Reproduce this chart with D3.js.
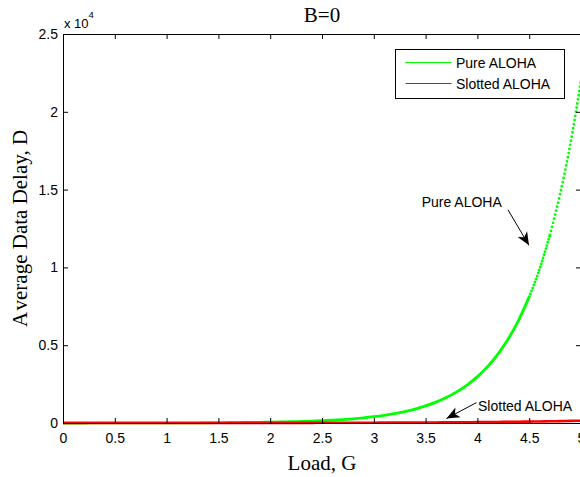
<!DOCTYPE html>
<html>
<head>
<meta charset="utf-8">
<script src="https://cdn.jsdelivr.net/npm/d3@7"></script>
<style>
  html, body { margin: 0; padding: 0; background: #fff; }
  svg { display: block; }
</style>
</head>
<body>
<svg id="chart" width="580" height="477"></svg>
<script>
// Offered load G (packets per packet time)
const loadG = [
  0.0, 0.1, 0.2, 0.3, 0.4, 0.5, 0.6, 0.7, 0.8, 0.9,
  1.0, 1.1, 1.2, 1.3, 1.4, 1.5, 1.6, 1.7, 1.8, 1.9,
  2.0, 2.1, 2.2, 2.3, 2.4, 2.5, 2.6, 2.7, 2.8, 2.9,
  3.0, 3.1, 3.2, 3.3, 3.4, 3.5, 3.6, 3.7, 3.8, 3.9,
  4.0, 4.1, 4.2, 4.3, 4.4, 4.5, 4.6, 4.7, 4.8, 4.9, 5.0
];
// Average data delay D, pure ALOHA
const pureDelay = [
  1.00, 1.22, 1.49, 1.82, 2.23, 2.72, 3.32, 4.06, 4.95, 6.05,
  7.39, 9.03, 11.0, 13.5, 16.4, 20.1, 24.5, 30.0, 36.6, 44.7,
  54.6, 66.7, 81.5, 99.5, 121.5, 148.4, 181.3, 221.4, 270.4, 330.3,
  403.4, 492.7, 601.8, 735.1, 897.8, 1096.6, 1339.4, 1636.0, 1998.2, 2440.6,
  2981.0, 3641.0, 4447.1, 5431.7, 6634.2, 8103.1, 9897.1, 12088.4, 14764.8, 18033.7, 22026.5
];
// Average data delay D, slotted ALOHA
const slottedDelay = [
  1.00, 1.11, 1.22, 1.35, 1.49, 1.65, 1.82, 2.01, 2.23, 2.46,
  2.72, 3.00, 3.32, 3.67, 4.06, 4.48, 4.95, 5.47, 6.05, 6.69,
  7.39, 8.17, 9.03, 9.97, 11.0, 12.2, 13.5, 14.9, 16.4, 18.2,
  20.1, 22.2, 24.5, 27.1, 30.0, 33.1, 36.6, 40.4, 44.7, 49.4,
  54.6, 60.3, 66.7, 73.7, 81.5, 90.0, 99.5, 110, 122, 134, 148
];
const seriesNames = ["Pure ALOHA", "Slotted ALOHA"];

const xTicks = [0, 0.5, 1, 1.5, 2, 2.5, 3, 3.5, 4, 4.5, 5];
const xTickLabels = ["0", "0.5", "1", "1.5", "2", "2.5", "3", "3.5", "4", "4.5", "5"];
const yTicks = [0, 5000, 10000, 15000, 20000, 25000];
const yTickLabels = ["0", "0.5", "1", "1.5", "2", "2.5"];

// Text call-outs, anchored in data units: [G, D] for the label, arrow tail and arrow tip
const calloutText = ["Pure ALOHA", "Slotted ALOHA"];
const calloutLabelAt = [[3.462, 13860], [4.006, 800]];
const calloutTail = [[4.295, 13700], [3.991, 1310]];
const calloutTip = [[4.498, 11420], [3.702, 290]];

const SANS = "'Liberation Sans', Arial, Helvetica, sans-serif";
const SERIF = "'Liberation Serif', 'Times New Roman', Times, serif";
const GREEN = "#00ff00";
const RED = "#ff0000";

const svg = d3.select("#chart");
svg.append("rect").attr("width", 580).attr("height", 477).attr("fill", "#fff");

const plotLeft = 63, plotRight = 581, plotTop = 34, plotBottom = 423;
const x = d3.scaleLinear().domain([0, 5]).range([plotLeft, plotRight]);
const y = d3.scaleLinear().domain([0, 25000]).range([plotBottom, plotTop]);

const defs = svg.append("defs");

// Plot clipping
defs.append("clipPath").attr("id", "plotClip")
  .append("rect").attr("x", plotLeft).attr("y", plotTop)
  .attr("width", plotRight - plotLeft).attr("height", plotBottom - plotTop + 3);

const rows = loadG.map((g, i) => ({ g, pure: pureDelay[i], slotted: slottedDelay[i] }));

const plot = svg.append("g").attr("clip-path", "url(#plotClip)");

const pureLine = d3.line().x(d => x(d.g)).y(d => y(d.pure)).curve(d3.curveMonotoneX);
const slottedLine = d3.line().x(d => x(d.g)).y(d => y(d.slotted)).curve(d3.curveMonotoneX);

// Pure ALOHA: dense point markers merge into a solid stroke where the curve is shallow,
// and separate into dots where it climbs steeply.
plot.append("path")
  .datum(rows.filter(d => d.g <= 4.5))
  .attr("d", pureLine)
  .attr("fill", "none").attr("stroke", GREEN)
  .attr("stroke-width", 2.8).attr("stroke-linecap", "round");
plot.append("path")
  .datum(rows.filter(d => d.g >= 4.5 && d.g <= 4.7))
  .attr("d", pureLine)
  .attr("fill", "none").attr("stroke", GREEN)
  .attr("stroke-width", 2.8).attr("stroke-linecap", "round")
  .attr("stroke-dasharray", "0 3.2");
plot.append("path")
  .datum(rows.filter(d => d.g >= 4.7))
  .attr("d", pureLine)
  .attr("fill", "none").attr("stroke", GREEN)
  .attr("stroke-width", 2.8).attr("stroke-linecap", "round")
  .attr("stroke-dasharray", "0 4.2");

// Slotted ALOHA
plot.append("path")
  .datum(rows)
  .attr("d", slottedLine)
  .attr("fill", "none").attr("stroke", RED)
  .attr("stroke-width", 2.6);

// Axes with inward ticks on all four sides
const axisStyle = g => {
  g.selectAll(".domain").attr("stroke", "#000");
  g.selectAll(".tick line").attr("stroke", "#000");
  g.selectAll(".tick text").attr("fill", "#000")
    .style("font-family", SANS).style("font-size", "14px");
};

svg.append("g").attr("transform", `translate(0,${plotBottom})`)
  .call(d3.axisBottom(x).tickValues(xTicks)
    .tickFormat((d, i) => xTickLabels[i])
    .tickSizeInner(-5).tickSizeOuter(0).tickPadding(10))
  .call(axisStyle);

svg.append("g").attr("transform", `translate(0,${plotTop})`)
  .call(d3.axisTop(x).tickValues(xTicks).tickFormat("")
    .tickSizeInner(-5).tickSizeOuter(0))
  .call(axisStyle);

svg.append("g").attr("transform", `translate(${plotLeft},0)`)
  .call(d3.axisLeft(y).tickValues(yTicks)
    .tickFormat((d, i) => yTickLabels[i])
    .tickSizeInner(-5).tickSizeOuter(0).tickPadding(5))
  .call(axisStyle);

svg.append("g").attr("transform", `translate(${plotRight},0)`)
  .call(d3.axisRight(y).tickValues(yTicks).tickFormat("")
    .tickSizeInner(-5).tickSizeOuter(0))
  .call(axisStyle);

// Exponent multiplier for the y axis
const expo = svg.append("text")
  .attr("x", plotLeft + 1).attr("y", 28)
  .style("font-family", SANS).style("font-size", "13px").attr("fill", "#000");
expo.append("tspan").text("x 10");
expo.append("tspan").attr("dy", -10).style("font-size", "9.5px").text("4");

// Title and axis labels
svg.append("text")
  .attr("x", (plotLeft + plotRight) / 2).attr("y", 21.5)
  .attr("text-anchor", "middle")
  .style("font-family", SERIF).style("font-size", "21px")
  .text("B=0");

svg.append("text")
  .attr("x", (plotLeft + plotRight) / 2).attr("y", 469.5)
  .attr("text-anchor", "middle")
  .style("font-family", SERIF).style("font-size", "21px")
  .text("Load, G");

const ylab = svg.append("text")
  .attr("transform", `translate(27,${(plotTop + plotBottom) / 2}) rotate(-90)`)
  .attr("text-anchor", "middle")
  .style("font-family", SERIF).style("font-size", "21px");
ylab.append("tspan").text("A");
ylab.append("tspan").attr("dx", 3).text("verage Data Delay, D");

// Legend
const legend = svg.append("g").attr("transform", "translate(395.5,49.5)");
legend.append("rect").attr("width", 169).attr("height", 49)
  .attr("fill", "#fff").attr("stroke", "#000").attr("stroke-width", 1);
[GREEN, RED].forEach((c, i) => {
  const yy = 13 + i * 21;
  legend.append("line").attr("x1", 10).attr("x2", 56)
    .attr("y1", yy).attr("y2", yy)
    .attr("stroke", c).attr("stroke-width", 1.2);
  legend.append("text").attr("x", 60.5).attr("y", yy + 5)
    .style("font-family", SANS).style("font-size", "14px").attr("fill", "#000")
    .text(seriesNames[i]);
});

// Call-outs with filled arrowheads
defs.append("marker")
  .attr("id", "arrowHead")
  .attr("markerUnits", "userSpaceOnUse")
  .attr("viewBox", "-14 -6 15 12")
  .attr("refX", 0).attr("refY", 0)
  .attr("markerWidth", 15).attr("markerHeight", 12)
  .attr("orient", "auto")
  .append("path")
  .attr("d", "M0,0 L-13,-5.5 L-9.5,0 L-13,5.5 Z")
  .attr("fill", "#000");

calloutText.forEach((t, i) => {
  svg.append("text")
    .attr("x", x(calloutLabelAt[i][0])).attr("y", y(calloutLabelAt[i][1]))
    .style("font-family", SANS).style("font-size", "14px").attr("fill", "#000")
    .text(t);
  svg.append("line")
    .attr("x1", x(calloutTail[i][0])).attr("y1", y(calloutTail[i][1]))
    .attr("x2", x(calloutTip[i][0])).attr("y2", y(calloutTip[i][1]))
    .attr("stroke", "#000").attr("stroke-width", 1)
    .attr("marker-end", "url(#arrowHead)");
});
</script>
</body>
</html>
